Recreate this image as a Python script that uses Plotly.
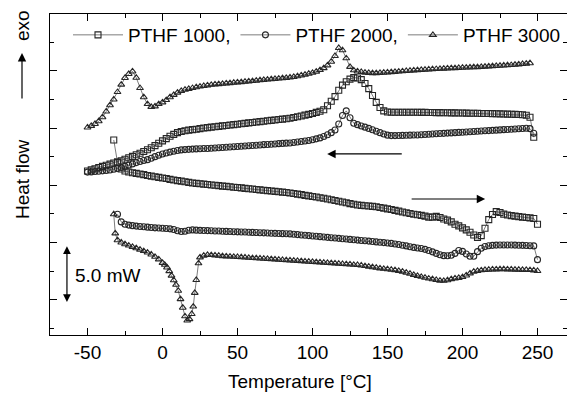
import plotly.graph_objects as go

# ---------------- data (temperature in °C, heat flow in mW, arbitrary offsets) -------------
T_COOL = [-50, -47.5, -45, -42.5, -40, -37.5, -35, -32.5, -30, -27.5,
          -25, -22.5, -20, -17.5, -15, -12.5, -10, -7.5, -5, -2.5,
          0, 2.5, 5, 7.5, 10, 12.5, 15, 17.5, 20, 22.5,
          25, 27.5, 30, 32.5, 35, 37.5, 40, 42.5, 45, 47.5,
          50, 52.5, 55, 57.5, 60, 62.5, 65, 67.5, 70, 72.5,
          75, 77.5, 80, 82.5, 85, 87.5, 90, 92.5, 95, 97.5,
          100, 102.5, 105, 107.5, 110, 112.5, 115, 117.5, 120, 122.5,
          125, 127.5, 130, 132.5, 135, 137.5, 140, 142.5, 145, 147.5,
          150, 152.5, 155, 157.5, 160, 162.5, 165, 167.5, 170, 172.5,
          175, 177.5, 180, 182.5, 185, 187.5, 190, 192.5, 195, 197.5,
          200, 202.5, 205, 207.5, 210, 212.5, 215, 217.5, 220, 222.5,
          225, 227.5, 230, 232.5, 235, 237.5, 240, 242.5, 245]
T_COOL_END = [247.5]

T_HEAT = [-32.5, -30, -27.5, -25, -22.5, -20, -17.5, -15, -12.5, -10,
          -7.5, -5, -2.5, 0, 2.5, 5, 7.5, 10, 12.5, 15,
          17.5, 20, 22.5, 25, 27.5, 30, 32.5, 35, 37.5, 40,
          42.5, 45, 47.5, 50, 52.5, 55, 57.5, 60, 62.5, 65,
          67.5, 70, 72.5, 75, 77.5, 80, 82.5, 85, 87.5, 90,
          92.5, 95, 97.5, 100, 102.5, 105, 107.5, 110, 112.5, 115,
          117.5, 120, 122.5, 125, 127.5, 130, 132.5, 135, 137.5, 140,
          142.5, 145, 147.5, 150, 152.5, 155, 157.5, 160, 162.5, 165,
          167.5, 170, 172.5, 175, 177.5, 180, 182.5, 185, 187.5, 190,
          192.5, 195, 197.5, 200, 202.5, 205, 207.5, 210, 212.5, 215,
          217.5, 220, 222.5, 225, 227.5, 230, 232.5, 235, 237.5, 240,
          242.5, 245, 247.5, 250]

# PTHF 3000 heating has extra points in the melting dip
T_F_START = [-32.5, -31.5, -30, -27.5, -25, -22.5, -20, -17.5, -15, -12.5,
             -10, -7.5, -5, -2.5, 0, 1.5, 3, 4.5, 6, 7.5,
             9, 10.5, 12, 13.5, 15, 16.5, 18, 19.5, 20.5, 21.5,
             22.5, 24, 25, 27.5, 30, 32.5, 35, 37.5, 40]

# cooling curves
PTHF3000_COOL = [17.55, 17.69, 17.86, 18.1, 18.45, 18.95, 19.5, 20.0, 20.65, 21.3,
                 21.88, 22.23, 22.45, 21.9, 21.0, 20.2, 19.6, 19.35, 19.4, 19.6,
                 19.75, 19.95, 20.2, 20.4, 20.6, 20.75, 20.85, 20.93, 21.0, 21.07,
                 21.13, 21.18, 21.23, 21.28, 21.32, 21.34, 21.37, 21.40, 21.43, 21.46,
                 21.49, 21.52, 21.55, 21.58, 21.61, 21.64, 21.68, 21.71, 21.74, 21.77,
                 21.80, 21.83, 21.86, 21.89, 21.92, 21.97, 22.03, 22.10, 22.17, 22.25,
                 22.33, 22.43, 22.57, 22.74, 22.98, 23.3, 23.8, 24.5, 24.3, 23.6,
                 22.85, 22.55, 22.45, 22.4, 22.35, 22.32, 22.3, 22.3, 22.32, 22.34,
                 22.36, 22.39, 22.41, 22.44, 22.46, 22.49, 22.51, 22.54, 22.56, 22.58,
                 22.6, 22.62, 22.64, 22.66, 22.68, 22.7, 22.71, 22.73, 22.74, 22.76,
                 22.77, 22.79, 22.8, 22.82, 22.83, 22.85, 22.87, 22.89, 22.91, 22.93,
                 22.95, 22.97, 22.99, 23.01, 23.04, 23.07, 23.1, 23.13, 23.17]

PTHF1000_COOL = [13.75, 13.85, 13.95, 14.05, 14.15, 14.25, 14.35, 14.45, 14.55, 14.65,
                 14.77, 14.9, 15.03, 15.17, 15.3, 15.45, 15.6, 15.78, 15.97, 16.17,
                 16.38, 16.58, 16.78, 16.95, 17.1, 17.2, 17.27, 17.32, 17.36, 17.4,
                 17.45, 17.5, 17.54, 17.58, 17.62, 17.65, 17.69, 17.73, 17.77, 17.8,
                 17.84, 17.88, 17.91, 17.95, 17.99, 18.03, 18.06, 18.1, 18.14, 18.17,
                 18.21, 18.25, 18.28, 18.32, 18.36, 18.42, 18.49, 18.56, 18.63, 18.7,
                 18.78, 18.87, 18.97, 19.1, 19.45, 19.85, 20.25, 20.8, 21.25, 21.55,
                 21.78, 21.91, 21.88, 21.73, 21.4, 20.95, 20.35, 19.75, 19.3, 19.0,
                 18.9, 18.88, 18.88, 18.88, 18.88, 18.88, 18.88, 18.88, 18.88, 18.87,
                 18.87, 18.86, 18.86, 18.85, 18.85, 18.84, 18.84, 18.83, 18.83, 18.82,
                 18.82, 18.81, 18.8, 18.8, 18.79, 18.78, 18.78, 18.77, 18.76, 18.75,
                 18.74, 18.73, 18.72, 18.71, 18.7, 18.68, 18.66, 18.62, 18.45]
PTHF1000_COOL_END = [16.7]

PTHF2000_COOL = [13.65, 13.67, 13.7, 13.73, 13.76, 13.8, 13.84, 13.9, 13.97, 14.05,
                 14.15, 14.26, 14.37, 14.48, 14.58, 14.66, 14.74, 14.86, 15.0, 15.13,
                 15.23, 15.32, 15.4, 15.47, 15.54, 15.59, 15.62, 15.64, 15.66, 15.68,
                 15.69, 15.71, 15.72, 15.74, 15.76, 15.78, 15.8, 15.82, 15.84, 15.87,
                 15.89, 15.91, 15.93, 15.96, 15.98, 16.0, 16.02, 16.05, 16.07, 16.09,
                 16.11, 16.14, 16.16, 16.18, 16.2, 16.24, 16.28, 16.32, 16.37, 16.42,
                 16.48, 16.56, 16.64, 16.76, 16.92, 17.1, 17.33, 17.85, 18.6, 19.0,
                 18.4, 17.92, 17.8, 17.68, 17.58, 17.47, 17.35, 17.22, 17.1, 16.98,
                 16.88, 16.84, 16.84, 16.85, 16.86, 16.87, 16.88, 16.89, 16.9, 16.92,
                 16.94, 16.96, 16.98, 17.0, 17.02, 17.04, 17.06, 17.08, 17.1, 17.12,
                 17.14, 17.16, 17.18, 17.2, 17.22, 17.24, 17.26, 17.28, 17.3, 17.32,
                 17.34, 17.36, 17.38, 17.4, 17.42, 17.44, 17.46, 17.48, 17.45]
PTHF2000_COOL_END = [17.05]

# heating curves
PTHF1000_HEAT = [16.46, 14.49, 13.92, 13.75, 13.66, 13.6, 13.54, 13.49, 13.43, 13.36,
                 13.3, 13.24, 13.19, 13.14, 13.09, 13.02, 12.96, 12.91, 12.86, 12.81,
                 12.75, 12.7, 12.67, 12.63, 12.6, 12.57, 12.53, 12.5, 12.47, 12.43,
                 12.4, 12.37, 12.33, 12.3, 12.27, 12.23, 12.2, 12.17, 12.13, 12.1,
                 12.07, 12.03, 12.0, 11.97, 11.93, 11.9, 11.87, 11.83, 11.78, 11.73,
                 11.68, 11.62, 11.57, 11.52, 11.47, 11.41, 11.36, 11.3, 11.23, 11.17,
                 11.1, 11.04, 10.97, 10.9, 10.84, 10.78, 10.74, 10.71, 10.69, 10.66,
                 10.62, 10.56, 10.5, 10.44, 10.38, 10.31, 10.24, 10.17, 10.1, 10.03,
                 9.97, 9.92, 9.87, 9.8, 9.72, 9.72, 9.78, 9.68, 9.55, 9.45,
                 9.3, 9.1, 8.95, 8.78, 8.6, 8.4, 8.15, 7.95, 8.1, 8.75,
                 9.5, 9.95, 10.2, 10.12, 9.98, 9.9, 9.85, 9.8, 9.76, 9.72,
                 9.68, 9.65, 9.6, 9.1]

# starts at -30 °C (T_HEAT[1:])
PTHF2000_HEAT = [9.97, 9.3, 9.1, 9.02, 8.97, 8.93, 8.9, 8.87, 8.84,
                 8.81, 8.78, 8.76, 8.74, 8.72, 8.69, 8.63, 8.52, 8.46, 8.48,
                 8.57, 8.6, 8.58, 8.56, 8.55, 8.54, 8.52, 8.51, 8.5, 8.48,
                 8.47, 8.46, 8.44, 8.43, 8.42, 8.41, 8.39, 8.38, 8.37, 8.35,
                 8.34, 8.33, 8.31, 8.3, 8.29, 8.27, 8.26, 8.25, 8.22, 8.19,
                 8.16, 8.13, 8.1, 8.07, 8.04, 8.01, 7.98, 7.95, 7.92, 7.89,
                 7.86, 7.83, 7.8, 7.77, 7.74, 7.71, 7.68, 7.65, 7.62, 7.58,
                 7.55, 7.52, 7.49, 7.46, 7.42, 7.37, 7.32, 7.26, 7.2, 7.13,
                 7.07, 7.02, 6.97, 6.9, 6.8, 6.68, 6.55, 6.43, 6.35, 6.34,
                 6.38, 6.55, 6.8, 6.72, 6.5, 6.3, 6.3, 6.7, 7.0, 7.15,
                 7.22, 7.25, 7.27, 7.28, 7.28, 7.28, 7.28, 7.27, 7.26, 7.25,
                 7.24, 7.22, 7.2, 6.0]

PTHF3000_HEAT_START = [9.97, 8.3, 7.7, 7.5, 7.35, 7.23, 7.12, 7.0, 6.88, 6.75,
                       6.62, 6.45, 6.25, 6.02, 5.72, 5.55, 5.32, 5.0, 4.6, 4.2,
                       3.8, 3.28, 2.55, 1.8, 1.05, 0.68, 0.8, 1.25, 1.9, 3.1,
                       4.22, 5.68, 6.2, 6.35, 6.42, 6.4, 6.37, 6.34, 6.31]
# from 42.5 °C onwards (T_HEAT[30:])
PTHF3000_HEAT_REST = [6.29, 6.27, 6.25, 6.23, 6.21, 6.19, 6.16, 6.14, 6.12, 6.1,
                      6.08, 6.06, 6.04, 6.02, 5.99, 5.97, 5.95, 5.93, 5.91, 5.89,
                      5.87, 5.84, 5.82, 5.8, 5.78, 5.76, 5.73, 5.71, 5.69, 5.67,
                      5.64, 5.62, 5.6, 5.58, 5.55, 5.53, 5.49, 5.44, 5.39, 5.34,
                      5.29, 5.24, 5.2, 5.16, 5.12, 5.08, 5.02, 4.95, 4.86, 4.77,
                      4.67, 4.58, 4.5, 4.42, 4.35, 4.29, 4.22, 4.17, 4.15, 4.2,
                      4.3, 4.36, 4.4, 4.48, 4.62, 4.8, 4.95, 5.02, 5.07, 5.1,
                      5.12, 5.14, 5.15, 5.16, 5.16, 5.15, 5.14, 5.13, 5.12, 5.11,
                      5.1, 5.09, 5.06, 5.01]

X_TICKS = [-50, 0, 50, 100, 150, 200, 250]
X_TICK_TEXT = ["-50", "0", "50", "100", "150", "200", "250"]
X_MINOR = [-75, -25, 25, 75, 125, 175, 225]
Y_MAJOR = [2.5, 7.5, 12.5, 17.5, 22.5]
Y_MINOR = [0, 5, 10, 15, 20, 25]

NAMES = ["PTHF 1000,", "PTHF 2000,", "PTHF 3000"]
SYMBOLS = ["square-open", "circle-open", "triangle-up-open"]

# arrows / scale bar (data coordinates)
COOL_ARROW = dict(x_head=109.8, x_tail=160.5, y=15.24)
HEAT_ARROW = dict(x_head=215.1, x_tail=165.1, y=11.30)
SCALE_BAR = dict(x=-63.7, y0=2.3, y1=7.3, label="5.0 mW", label_x=-59.7, label_y=4.6)

# ---------------- figure -------------
FONT = "Liberation Sans, Arial, Helvetica, sans-serif"
INK = "#262626"

fig = go.Figure()


def add(x, y, idx, show):
    fig.add_trace(go.Scatter(
        x=x, y=y, mode="lines+markers", name=NAMES[idx], legendgroup=NAMES[idx],
        showlegend=show,
        line=dict(color="#444444", width=0.7),
        marker=dict(symbol=SYMBOLS[idx], size=6, color=INK, line=dict(width=1.1, color=INK)),
    ))


add(T_COOL + T_COOL_END, PTHF1000_COOL + PTHF1000_COOL_END, 0, True)
add(T_HEAT, PTHF1000_HEAT, 0, False)
add(T_COOL + T_COOL_END, PTHF2000_COOL + PTHF2000_COOL_END, 1, True)
add(T_HEAT[1:], PTHF2000_HEAT, 1, False)
add(T_COOL, PTHF3000_COOL, 2, True)
add(T_F_START + T_HEAT[30:], PTHF3000_HEAT_START + PTHF3000_HEAT_REST, 2, False)

W, H = 567, 393
ML, MR, MT, MB = 50, 0, 14, 58
PW, PH = W - ML - MR, H - MT - MB


def px_to_paper_x(px):
    return (px - ML) / PW


def px_to_paper_y(py):
    return (H - MB - py) / PH


axis_common = dict(
    showline=True, linecolor="black", linewidth=1.2, mirror="ticks",
    ticks="inside", ticklen=7, tickwidth=1.2, tickcolor="black",
    showgrid=False, zeroline=False,
)

fig.update_layout(
    width=W, height=H,
    margin=dict(l=ML, r=MR, t=MT, b=MB, pad=0),
    paper_bgcolor="white", plot_bgcolor="white",
    font=dict(family=FONT, size=19, color="black"),
    xaxis=dict(range=[-75, -75 + PW / 1.5], tickmode="array", tickvals=X_TICKS,
               ticktext=X_TICK_TEXT, tickfont=dict(size=19, color="black"),
               minor=dict(tickmode="array", tickvals=X_MINOR, ticks="inside", ticklen=4,
                          tickwidth=1.2, tickcolor="black"),
               **axis_common),
    yaxis=dict(range=[-0.586, 27.47], tickmode="array", tickvals=Y_MAJOR,
               showticklabels=False,
               minor=dict(tickmode="array", tickvals=Y_MINOR, ticks="inside", ticklen=4,
                          tickwidth=1.2, tickcolor="black"),
               **axis_common),
    legend=dict(orientation="h", x=px_to_paper_x(68), xanchor="left",
                y=px_to_paper_y(35), yanchor="middle", bgcolor="rgba(0,0,0,0)",
                itemwidth=50,
                font=dict(size=19, color="black", family=FONT)),
    showlegend=True,
)

ann = []
ann.append(dict(text="Temperature [°C]", x=px_to_paper_x(300), y=px_to_paper_y(381),
                xref="paper", yref="paper", showarrow=False, xanchor="center", yanchor="middle",
                font=dict(size=19)))
ann.append(dict(text="Heat flow", x=px_to_paper_x(22), y=px_to_paper_y(180),
                xref="paper", yref="paper", showarrow=False, textangle=-90,
                xanchor="center", yanchor="middle", font=dict(size=19)))
ann.append(dict(text="exo", x=px_to_paper_x(22), y=px_to_paper_y(26),
                xref="paper", yref="paper", showarrow=False, textangle=-90,
                xanchor="center", yanchor="middle", font=dict(size=19)))
ann.append(dict(text="", x=px_to_paper_x(22), y=px_to_paper_y(53), xref="paper", yref="paper",
                showarrow=True, ax=0, ay=47, arrowhead=2, arrowsize=1.4, arrowwidth=1.2,
                arrowcolor="black", standoff=0, startstandoff=0))
for a in (COOL_ARROW, HEAT_ARROW):
    ann.append(dict(text="", x=a["x_head"], y=a["y"], ax=a["x_tail"], ay=a["y"],
                    xref="x", yref="y", axref="x", ayref="y", showarrow=True,
                    arrowhead=2, arrowsize=1.4, arrowwidth=1.2, arrowcolor="black",
                    standoff=0, startstandoff=0))
ann.append(dict(text="", x=SCALE_BAR["x"], y=SCALE_BAR["y0"], ax=SCALE_BAR["x"], ay=SCALE_BAR["y1"],
                xref="x", yref="y", axref="x", ayref="y", showarrow=True,
                arrowhead=2, startarrowhead=2, arrowside="end+start", arrowsize=1.3,
                startarrowsize=1.3, arrowwidth=1.2, arrowcolor="black", standoff=0, startstandoff=0))
ann.append(dict(text=SCALE_BAR["label"], x=SCALE_BAR["label_x"], y=SCALE_BAR["label_y"],
                xref="x", yref="y", showarrow=False, xanchor="left", yanchor="middle",
                font=dict(size=19)))
fig.update_layout(annotations=ann)

fig.write_html("out.html")
